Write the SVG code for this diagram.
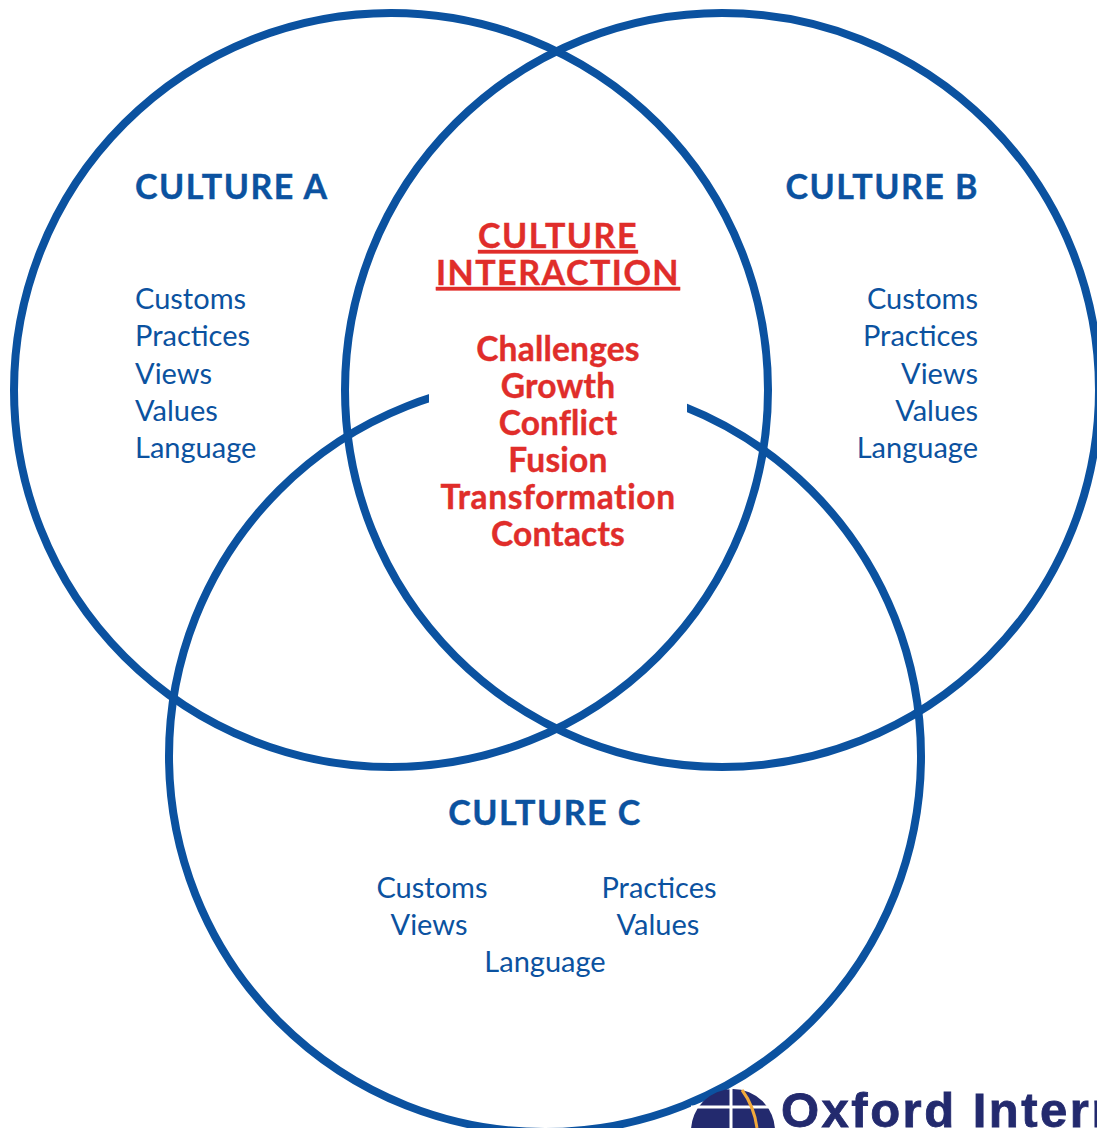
<svg xmlns="http://www.w3.org/2000/svg" width="1097" height="1128" viewBox="0 0 1097 1128">
<style>
.c{fill:none;stroke:#0b52a0;stroke-width:8}
text{font-family:"Lato","Liberation Sans",sans-serif}
.h{font-size:34px;font-weight:700;fill:#0b52a0;letter-spacing:1.500px;stroke:#0b52a0;stroke-width:.4px}
.t{font-size:29px;fill:#0b52a0}
.r{font-size:33.500px;font-weight:700;fill:#e02d2a;text-anchor:middle;letter-spacing:.2px;stroke:#e02d2a;stroke-width:.4px}
.u{font-size:34px;letter-spacing:1.500px;text-decoration:underline}
.e{text-anchor:end}.m{text-anchor:middle}
</style>
<rect width="1097" height="1128" fill="#fff"/>
<g id="connectors">
<circle class="c" cx="391" cy="390" r="377"/>
<circle class="c" cx="722" cy="390" r="377"/>
<circle class="c" cx="545" cy="756" r="376"/>
<rect x="429" y="368" width="258" height="60" fill="#fff"/>
</g>
<g id="culture-a">
<text class="h" x="135" y="199">CULTURE A</text>
<text class="t" x="135" y="309">Customs</text>
<text class="t" x="135" y="346">Practices</text>
<text class="t" x="135" y="384">Views</text>
<text class="t" x="135" y="421">Values</text>
<text class="t" x="135" y="458">Language</text>
</g>
<g id="culture-b">
<text class="h e" x="979" y="199">CULTURE B</text>
<text class="t e" x="978" y="309">Customs</text>
<text class="t e" x="978" y="346">Practices</text>
<text class="t e" x="978" y="384">Views</text>
<text class="t e" x="978" y="421">Values</text>
<text class="t e" x="978" y="458">Language</text>
</g>
<g id="culture-c">
<text class="h m" x="545" y="825">CULTURE C</text>
<text class="t m" x="432" y="898">Customs</text>
<text class="t m" x="659" y="898">Practices</text>
<text class="t m" x="429" y="935">Views</text>
<text class="t m" x="658" y="935">Values</text>
<text class="t m" x="545" y="972">Language</text>
</g>
<g id="culture-interaction">
<text class="r u" x="558" y="248">CULTURE</text>
<text class="r u" x="558" y="285">INTERACTION</text>
<text class="r" x="558" y="361">Challenges</text>
<text class="r" x="558" y="398">Growth</text>
<text class="r" x="558" y="435">Conflict</text>
<text class="r" x="558" y="472">Fusion</text>
<text class="r" x="558" y="509" style="letter-spacing:.6px">Transformation</text>
<text class="r" x="558" y="546">Contacts</text>
</g>
<g id="logo">
<circle cx="733" cy="1131" r="42" fill="#232a6e"/>
<path d="M691 1107H775M731 1089V1128" stroke="#fff" stroke-width="3" fill="none"/>
<path d="M742 1090Q754 1106 757 1128" stroke="#f2a93b" stroke-width="3" fill="none"/>
<text x="781" y="1127" font-size="49" font-weight="700" fill="#232a6e" stroke="#232a6e" stroke-width=".8" letter-spacing="2.500" style="font-family:'Liberation Sans',sans-serif">Oxford Intern</text>
</g>
</svg>
